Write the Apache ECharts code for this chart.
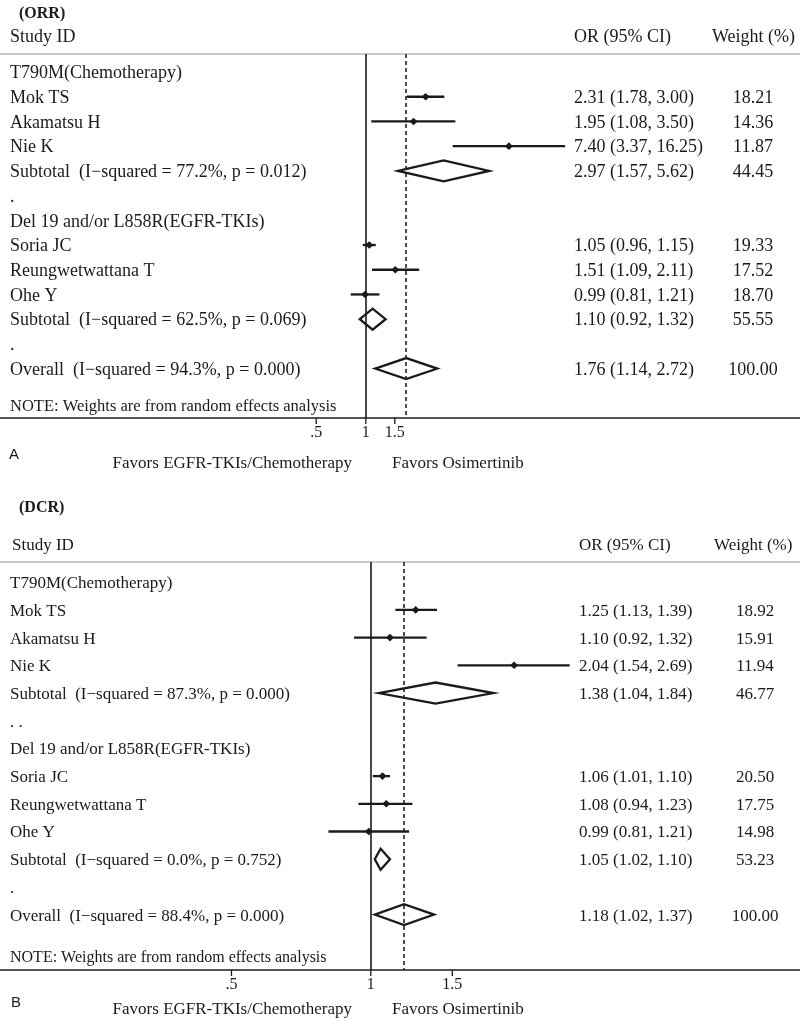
<!DOCTYPE html>
<html><head><meta charset="utf-8">
<script src="https://cdn.jsdelivr.net/npm/echarts@6/dist/echarts.min.js"></script>
<style>html,body{margin:0;padding:0;background:#fff}#c{width:800px;height:1018px}</style>
</head><body><div id="c"></div>
<script>
// ---------- DATA ----------
const orrLabels = [
  'T790M(Chemotherapy)', 'Mok TS', 'Akamatsu H', 'Nie K',
  'Subtotal  (I\u2212squared = 77.2%, p = 0.012)', '.',
  'Del 19 and/or L858R(EGFR-TKIs)', 'Soria JC', 'Reungwetwattana T', 'Ohe Y',
  'Subtotal  (I\u2212squared = 62.5%, p = 0.069)', '.',
  'Overall  (I\u2212squared = 94.3%, p = 0.000)'
];
const orrOR     = [null, 2.31, 1.95, 7.40, 2.97, null, null, 1.05, 1.51, 0.99, 1.10, null, 1.76];
const orrLo     = [null, 1.78, 1.08, 3.37, 1.57, null, null, 0.96, 1.09, 0.81, 0.92, null, 1.14];
const orrHi     = [null, 3.00, 3.50, 16.25, 5.62, null, null, 1.15, 2.11, 1.21, 1.32, null, 2.72];
const orrWeight = [null, 18.21, 14.36, 11.87, 44.45, null, null, 19.33, 17.52, 18.70, 55.55, null, 100.00];

const dcrLabels = [
  'T790M(Chemotherapy)', 'Mok TS', 'Akamatsu H', 'Nie K',
  'Subtotal  (I\u2212squared = 87.3%, p = 0.000)', '. .',
  'Del 19 and/or L858R(EGFR-TKIs)', 'Soria JC', 'Reungwetwattana T', 'Ohe Y',
  'Subtotal  (I\u2212squared = 0.0%, p = 0.752)', '.',
  'Overall  (I\u2212squared = 88.4%, p = 0.000)'
];
const dcrOR     = [null, 1.25, 1.10, 2.04, 1.38, null, null, 1.06, 1.08, 0.99, 1.05, null, 1.18];
const dcrLo     = [null, 1.13, 0.92, 1.54, 1.04, null, null, 1.01, 0.94, 0.81, 1.02, null, 1.02];
const dcrHi     = [null, 1.39, 1.32, 2.69, 1.84, null, null, 1.10, 1.23, 1.21, 1.10, null, 1.37];
const dcrWeight = [null, 18.92, 15.91, 11.94, 46.77, null, null, 20.50, 17.75, 14.98, 53.23, null, 100.00];

// 0 = study, 1 = pooled (diamond), -1 = text only
const rowKind = [-1, 0, 0, 0, 1, -1, -1, 0, 0, 0, 1, -1, 1];

const tickValues = [0.5, 1, 1.5];
const tickLabels = ['.5', '1', '1.5'];
const noteText = 'NOTE: Weights are from random effects analysis';

// ---------- LAYOUT ----------
const SERIF = '"Liberation Serif","Times New Roman",serif';
const SANS = '"Liberation Sans",Arial,sans-serif';
const INK = '#1a1a1a';

const panels = [
  { labels: orrLabels, est: orrOR, lo: orrLo, hi: orrHi, w: orrWeight,
    fs: 18, noteFs: 16.5, orX: 574, wX: 753, top: 54, height: 364, xMin: 0.006002, xMax: 433.9 },
  { labels: dcrLabels, est: dcrOR, lo: dcrLo, hi: dcrHi, w: dcrWeight,
    fs: 17, noteFs: 16, orX: 579, wX: 755, top: 562, height: 408, xMin: 0.15805, xMax: 8.4597 }
];
const rowMin = -0.73, rowMax = 14, noteRow = 13.5, textDy = 1.5;

const grids = [], xAxes = [], yAxes = [], series = [];

panels.forEach((p, pi) => {
  grids.push({ left: 0, right: 0, top: p.top, height: p.height, containLabel: false });
  xAxes.push({
    type: 'log', gridIndex: pi, min: p.xMin, max: p.xMax,
    axisLine: { show: true, onZero: false, lineStyle: { color: INK, width: 1.5 } },
    axisTick: { show: false }, axisLabel: { show: false }, splitLine: { show: false }
  });
  yAxes.push({ type: 'value', gridIndex: pi, inverse: true, min: rowMin, max: rowMax, show: false });

  const overallIdx = rowKind.length - 1;
  const markData = [];
  rowKind.forEach((k, i) => {
    if (k >= 0 && p.est[i] != null) markData.push([p.est[i], i, p.lo[i], p.hi[i], k]);
  });

  // CI lines, points and diamonds
  series.push({
    type: 'custom', xAxisIndex: pi, yAxisIndex: pi, clip: false,
    encode: { x: 0, y: 1 },
    data: markData,
    renderItem: function (params, api) {
      const est = api.value(0), row = api.value(1), lo = api.value(2), hi = api.value(3), kind = api.value(4);
      const c = api.coord([est, row]);
      const l = api.coord([lo, row]);
      const h = api.coord([hi, row]);
      if (kind === 0) {
        return { type: 'group', children: [
          { type: 'line', shape: { x1: l[0], y1: c[1], x2: h[0], y2: c[1] },
            style: { stroke: INK, lineWidth: 2.3 } },
          { type: 'polygon', shape: { points: [[c[0] - 4, c[1]], [c[0], c[1] - 3.8], [c[0] + 4, c[1]], [c[0], c[1] + 3.8]] },
            style: { fill: INK } }
        ] };
      }
      return { type: 'polygon',
        shape: { points: [[l[0], c[1]], [c[0], c[1] - 10.5], [h[0], c[1]], [c[0], c[1] + 10.5]] },
        style: { fill: 'none', stroke: INK, lineWidth: 2.3, lineJoin: 'miter' } };
    },
    markLine: {
      silent: true, symbol: ['none', 'none'], label: { show: false },
      data: [
        { xAxis: 1, lineStyle: { color: INK, width: 1.6, type: 'solid' } },
        { xAxis: p.est[overallIdx], lineStyle: { color: '#222', width: 1.6, type: [4, 3] } }
      ]
    },
    z: 3
  });

  // row texts
  const textData = p.labels.map((t, i) => [1, i]);
  textData.push([1, noteRow]);
  series.push({
    type: 'custom', xAxisIndex: pi, yAxisIndex: pi, clip: false,
    encode: { x: 0, y: 1 },
    data: textData,
    renderItem: function (params, api) {
      const i = params.dataIndex;
      const y = api.coord([1, api.value(1)])[1] + textDy;
      const font = { fontFamily: SERIF, fontSize: p.fs, fill: INK, verticalAlign: 'middle', textVerticalAlign: 'middle' };
      const children = [];
      if (i >= p.labels.length) {
        children.push({ type: 'text', x: 10, y: y, style: Object.assign({ text: noteText, align: 'left' }, font, { fontSize: p.noteFs }) });
        return { type: 'group', children: children };
      }
      children.push({ type: 'text', x: 10, y: y, style: Object.assign({ text: p.labels[i], align: 'left' }, font) });
      if (p.est[i] != null) {
        const s = p.est[i].toFixed(2) + ' (' + p.lo[i].toFixed(2) + ', ' + p.hi[i].toFixed(2) + ')';
        children.push({ type: 'text', x: p.orX, y: y, style: Object.assign({ text: s, align: 'left' }, font) });
      }
      if (p.w[i] != null) {
        children.push({ type: 'text', x: p.wX, y: y, style: Object.assign({ text: p.w[i].toFixed(2), align: 'center', textAlign: 'center' }, font) });
      }
      return { type: 'group', children: children };
    },
    z: 4
  });

  // axis ticks + labels
  series.push({
    type: 'custom', xAxisIndex: pi, yAxisIndex: pi, clip: false,
    encode: { x: 0, y: 1 },
    data: tickValues.map(v => [v, 0]),
    renderItem: function (params, api) {
      const x = api.coord([api.value(0), 0])[0];
      const cs = params.coordSys;
      const b = cs.y + cs.height;
      return { type: 'group', children: [
        { type: 'line', shape: { x1: x, y1: b, x2: x, y2: b + 6 }, style: { stroke: INK, lineWidth: 1.3 } },
        { type: 'text', x: x, y: b + 15, style: { text: tickLabels[params.dataIndex], fontFamily: SERIF, fontSize: 16, fill: INK,
          align: 'center', textAlign: 'center', verticalAlign: 'middle', textVerticalAlign: 'middle' } }
      ] };
    },
    z: 4
  });
});

function txt(text, x, y, size, opts) {
  return Object.assign({ type: 'text', x: x, y: y,
    style: Object.assign({ text: text, fontFamily: SERIF, fontSize: size, fill: INK,
      align: 'left', verticalAlign: 'middle', textVerticalAlign: 'middle' }, (opts || {})) });
}

const graphics = [
  txt('(ORR)', 19, 14, 16, { fontWeight: 'bold' }),
  txt('Study ID', 10, 37, 18),
  txt('OR (95% CI)', 574, 37, 18),
  txt('Weight (%)', 712, 37, 18),
  { type: 'rect', shape: { x: 0, y: 53, width: 800, height: 2 }, style: { fill: '#c8c8c8' } },
  txt('A', 9, 455, 15, { fontFamily: SANS }),
  txt('Favors EGFR-TKIs/Chemotherapy', 352, 464, 17, { align: 'right', textAlign: 'right' }),
  txt('Favors Osimertinib', 392, 464, 17),

  txt('(DCR)', 19, 508, 16, { fontWeight: 'bold' }),
  txt('Study ID', 12, 546, 17),
  txt('OR (95% CI)', 579, 546, 17),
  txt('Weight (%)', 714, 546, 17),
  { type: 'rect', shape: { x: 0, y: 561, width: 800, height: 2 }, style: { fill: '#c8c8c8' } },
  txt('B', 11, 1003, 15, { fontFamily: SANS }),
  txt('Favors EGFR-TKIs/Chemotherapy', 352, 1010, 17, { align: 'right', textAlign: 'right' }),
  txt('Favors Osimertinib', 392, 1010, 17)
];

const chart = echarts.init(document.getElementById('c'), null, { renderer: 'canvas' });
chart.setOption({
  animation: false,
  backgroundColor: '#fff',
  grid: grids, xAxis: xAxes, yAxis: yAxes, series: series,
  graphic: graphics
});
</script></body></html>
